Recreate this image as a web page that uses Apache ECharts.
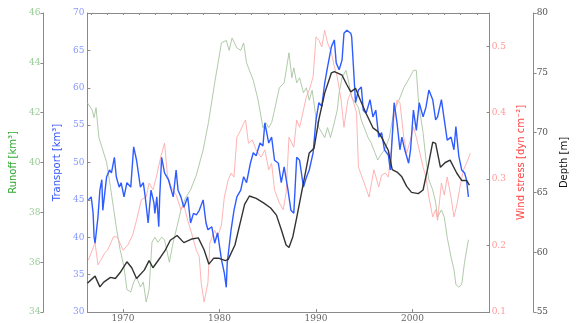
<!DOCTYPE html>
<html>
<head>
<meta charset="utf-8">
<script src="https://cdn.jsdelivr.net/npm/echarts@6/dist/echarts.min.js"></script>
<style>
html,body{margin:0;padding:0;background:#fff;}
#chart{width:577px;height:323px;}
</style>
</head>
<body>
<div id="chart"></div>
<script>
// ---- data (year, value) ----
const xLabelYears = [1970, 1980, 1990, 2000];
const runoffTicks = [34, 36, 38, 40, 42, 44, 46];
const transportTicks = [30, 35, 40, 45, 50, 55, 60, 65, 70];
const windTicks = [0.1, 0.2, 0.3, 0.4, 0.5];
const depthTicks = [55, 60, 65, 70, 75, 80];

const transport = [
[1966.4,45.0],[1966.7,45.4],[1966.9,43.2],[1967.0,40.0],[1967.1,39.2],[1967.4,42.7],[1967.6,46.3],[1967.8,47.7],[1967.9,43.6],
[1968.3,48.1],[1968.6,49.0],[1968.8,48.6],[1969.1,50.7],[1969.3,48.1],[1969.6,46.7],[1969.8,47.3],[1970.1,45.4],[1970.4,47.3],
[1970.8,46.7],[1971.1,52.1],[1971.4,50.3],[1971.8,46.7],[1972.1,47.3],[1972.3,45.4],[1972.6,41.9],[1972.9,46.3],[1973.2,44.6],
[1973.3,43.2],[1973.5,45.4],[1973.7,41.4],[1973.8,45.4],[1974.0,50.7],[1974.3,48.6],[1974.7,47.7],[1975.2,45.4],[1975.5,49.0],
[1975.7,46.3],[1976.0,45.4],[1976.3,44.0],[1976.7,45.4],[1977.0,41.9],[1977.3,43.2],[1977.6,43.0],[1977.9,43.6],[1978.3,45.0],
[1978.6,41.9],[1978.8,41.0],[1979.2,41.4],[1979.5,39.2],[1979.8,40.6],[1980.2,37.0],[1980.5,35.2],[1980.7,33.3],[1980.8,36.6],
[1981.2,41.0],[1981.5,43.6],[1981.8,45.4],[1982.2,46.3],[1982.5,48.1],[1982.8,47.3],[1983.2,49.9],[1983.5,51.3],[1983.8,50.9],
[1984.2,52.6],[1984.5,52.2],[1984.7,55.3],[1985.1,52.6],[1985.4,53.4],[1985.7,50.3],[1986.1,49.9],[1986.4,47.3],[1986.7,49.4],
[1987.1,46.3],[1987.4,43.6],[1987.7,43.2],[1988.0,50.7],[1988.3,50.3],[1988.7,46.7],[1989.0,48.0],[1989.3,49.0],[1989.7,51.3],
[1990.0,55.7],[1990.3,58.0],[1990.6,57.5],[1990.9,60.6],[1991.2,62.8],[1991.6,65.5],[1991.9,66.4],[1992.1,63.3],[1992.4,62.4],
[1992.7,63.7],[1992.9,67.3],[1993.2,67.7],[1993.6,67.3],[1993.7,66.8],[1994.1,58.0],[1994.4,59.7],[1994.7,60.1],[1994.9,57.0],
[1995.2,56.6],[1995.6,58.4],[1995.9,56.1],[1996.2,57.0],[1996.5,53.4],[1996.8,54.0],[1997.1,51.7],[1997.5,51.0],[1997.7,49.0],
[1997.9,53.4],[1998.1,58.0],[1998.4,55.3],[1998.7,51.7],[1998.9,53.4],[1999.2,51.7],[1999.6,49.9],[1999.8,51.7],[2000.1,57.0],
[2000.4,54.3],[2000.7,58.0],[2001.1,56.1],[2001.4,57.4],[2001.7,59.7],[2002.1,58.4],[2002.4,55.7],[2002.6,56.1],[2003.0,58.4],
[2003.3,55.7],[2003.6,53.0],[2004.0,53.4],[2004.3,51.7],[2004.5,54.8],[2004.8,50.9],[2005.1,49.0],[2005.4,48.6],[2005.6,47.7],
[2005.8,45.4]
];

const runoff = [
[1966.3,42.4],[1966.8,42.1],[1967.0,41.8],[1967.2,42.2],[1967.5,41.0],[1967.9,40.5],[1968.3,40.0],[1968.7,39.0],[1969.0,38.2],
[1969.3,37.4],[1969.7,36.5],[1970.1,35.8],[1970.4,34.9],[1970.8,34.8],[1971.1,35.2],[1971.4,35.4],[1971.8,35.0],[1972.1,35.2],
[1972.4,34.4],[1972.7,34.9],[1973.0,36.8],[1973.3,37.0],[1973.6,36.8],[1974.0,37.0],[1974.3,36.9],[1974.8,36.0],[1975.2,36.8],
[1975.7,37.6],[1976.0,38.1],[1976.5,38.6],[1977.0,38.9],[1977.6,39.5],[1978.3,40.5],[1978.85,41.6],[1979.5,43.2],[1980.2,44.8],
[1980.7,44.9],[1981.0,44.5],[1981.3,45.0],[1981.8,44.6],[1982.2,44.5],[1982.5,44.8],[1982.8,44.0],[1983.5,43.3],[1984.0,42.5],
[1984.5,41.4],[1984.8,41.6],[1985.1,41.4],[1985.4,41.6],[1985.7,42.1],[1986.2,43.0],[1986.7,43.2],[1987.2,44.4],[1987.5,43.4],
[1987.7,43.8],[1988.0,43.2],[1988.3,43.4],[1988.7,42.8],[1989.0,43.0],[1989.3,42.5],[1989.6,42.9],[1990.0,41.8],[1990.3,41.4],
[1990.6,41.2],[1990.9,41.0],[1991.2,41.4],[1991.5,41.0],[1991.9,41.6],[1992.2,42.1],[1992.4,42.8],[1992.7,43.4],[1993.1,43.7],
[1993.4,43.2],[1993.7,42.6],[1994.1,42.4],[1994.4,42.2],[1994.7,41.7],[1995.1,41.3],[1995.4,41.0],[1995.7,40.8],[1996.1,40.4],
[1996.4,40.1],[1996.7,40.3],[1997.1,40.5],[1997.4,40.8],[1997.6,41.0],[1998.1,42.1],[1998.6,42.5],[1999.1,43.0],[1999.4,43.2],
[1999.7,43.4],[2000.1,43.7],[2000.4,43.7],[2000.6,42.6],[2000.7,42.2],[2001.1,41.2],[2001.4,40.1],[2001.7,39.3],[2002.1,38.9],
[2002.4,38.4],[2002.6,37.8],[2003.0,38.1],[2003.3,37.8],[2003.6,37.0],[2004.0,36.2],[2004.3,35.7],[2004.5,35.1],[2004.8,35.0],
[2005.1,35.1],[2005.4,36.0],[2005.8,36.9]
];

const windStress = [
[1966.4,0.178],[1966.8,0.193],[1967.1,0.204],[1967.4,0.171],[1967.7,0.178],[1968.1,0.189],[1968.4,0.193],[1969.0,0.213],
[1969.4,0.213],[1970.0,0.193],[1970.5,0.201],[1971.0,0.216],[1971.4,0.238],[1971.9,0.269],[1972.4,0.273],[1972.7,0.294],
[1973.1,0.284],[1973.5,0.306],[1973.9,0.333],[1974.3,0.354],[1974.6,0.306],[1975.0,0.288],[1975.5,0.276],[1976.0,0.254],
[1976.3,0.261],[1976.7,0.238],[1977.1,0.219],[1977.6,0.193],[1977.9,0.183],[1978.1,0.144],[1978.4,0.115],[1978.8,0.144],
[1979.0,0.204],[1979.5,0.223],[1979.8,0.213],[1980.2,0.231],[1980.5,0.273],[1980.9,0.299],[1981.2,0.309],[1981.5,0.303],
[1981.8,0.363],[1982.2,0.374],[1982.5,0.384],[1982.7,0.389],[1983.0,0.354],[1983.4,0.359],[1983.8,0.344],[1984.3,0.333],
[1984.7,0.344],[1985.1,0.314],[1985.4,0.324],[1985.7,0.284],[1986.2,0.264],[1986.6,0.254],[1986.9,0.279],[1987.2,0.363],
[1987.4,0.363],[1987.7,0.348],[1988.0,0.389],[1988.3,0.378],[1988.7,0.404],[1989.0,0.424],[1989.3,0.434],[1989.7,0.454],
[1990.0,0.514],[1990.3,0.509],[1990.6,0.499],[1990.9,0.524],[1991.2,0.505],[1991.6,0.490],[1991.9,0.469],[1992.2,0.454],
[1992.6,0.419],[1992.9,0.378],[1993.3,0.419],[1993.6,0.430],[1993.9,0.415],[1994.2,0.400],[1994.4,0.318],[1994.7,0.306],
[1995.0,0.294],[1995.5,0.273],[1996.0,0.314],[1996.3,0.299],[1996.5,0.288],[1996.8,0.306],[1997.2,0.309],[1997.5,0.303],
[1997.8,0.344],[1998.1,0.393],[1998.4,0.419],[1998.7,0.415],[1999.1,0.363],[1999.4,0.339],[1999.7,0.354],[2000.1,0.378],
[2000.4,0.363],[2000.7,0.344],[2001.1,0.318],[2001.4,0.303],[2001.7,0.273],[2002.1,0.243],[2002.4,0.254],[2002.6,0.238],
[2003.0,0.294],[2003.3,0.276],[2003.6,0.303],[2004.0,0.273],[2004.3,0.243],[2004.6,0.261],[2005.0,0.294],[2005.3,0.314],
[2005.6,0.324],[2006.0,0.339]
];

const depth = [
[1966.3,57.4],[1967.1,58.0],[1967.6,57.1],[1968.0,57.5],[1968.7,57.9],[1969.2,57.8],[1969.7,58.3],[1970.4,59.2],[1970.9,58.7],
[1971.4,57.8],[1972.2,58.5],[1972.7,59.3],[1973.1,58.7],[1973.9,59.6],[1974.4,60.2],[1974.9,61.0],[1975.6,61.4],[1976.3,60.8],
[1977.1,61.1],[1977.8,61.2],[1978.4,60.2],[1978.9,59.0],[1979.4,59.5],[1979.9,59.5],[1980.6,59.3],[1980.9,59.4],[1981.6,60.6],
[1982.1,62.3],[1982.6,64.0],[1983.1,64.7],[1983.8,64.5],[1984.6,64.1],[1985.3,63.7],[1985.9,63.1],[1986.4,61.9],[1986.9,60.6],
[1987.2,60.4],[1987.6,61.3],[1988.0,62.9],[1988.7,65.8],[1989.3,68.3],[1989.8,68.7],[1990.3,71.1],[1990.9,73.3],[1991.6,75.0],
[1991.9,75.1],[1992.2,75.0],[1992.7,74.8],[1993.2,74.0],[1993.6,73.4],[1994.1,73.7],[1994.6,72.7],[1995.2,71.6],[1995.9,70.4],
[1996.4,70.1],[1996.8,69.6],[1997.5,68.5],[1997.9,66.9],[1998.4,66.7],[1998.9,66.3],[1999.4,65.5],[1999.9,65.0],[2000.6,64.9],
[2001.1,65.2],[2001.6,67.1],[2002.1,69.2],[2002.4,69.1],[2002.9,67.1],[2003.4,67.5],[2003.9,67.7],[2004.6,66.6],[2005.1,66.0],
[2005.6,66.0],[2005.9,65.6]
];

// ---- chart ----
const serif = 'DejaVu Serif';
const sans = 'DejaVu Sans';
const topTicks = [];
for (let k = 0; k < 25; k++) { const v = 1966.6667 + k * 10 / 6; if (v < 2008) topTicks.push(+v.toFixed(3)); }

function yAx(o) {
  return Object.assign({
    type: 'value',
    splitLine: { show: false },
    axisLine: { show: true, lineStyle: { color: '#8a8a8a', width: 1 } },
    axisTick: { show: true, length: 3, lineStyle: { color: '#8a8a8a' } },
    nameLocation: 'middle',
    nameTextStyle: { fontFamily: sans, fontSize: 10 }
  }, o);
}

const chart = echarts.init(document.getElementById('chart'), null, { renderer: 'canvas' });
chart.setOption({
  animation: false,
  backgroundColor: '#ffffff',
  grid: { left: 85, right: 68, top: 13, bottom: 11, containLabel: false },
  xAxis: [
    {
      type: 'value', min: 1966.3, max: 2008, position: 'bottom',
      splitLine: { show: false },
      axisLine: { lineStyle: { color: '#8a8a8a' } },
      axisTick: { inside: true, length: 3, customValues: xLabelYears, lineStyle: { color: '#8a8a8a' } },
      axisLabel: { customValues: xLabelYears, color: '#666', fontFamily: serif, fontSize: 9, margin: 2,
        formatter: v => String(Math.round(v)) }
    },
    {
      type: 'value', min: 1966.3, max: 2008, position: 'top',
      splitLine: { show: false },
      axisLine: { show: true, lineStyle: { color: '#8a8a8a' } },
      axisTick: { inside: true, length: 2, customValues: topTicks, lineStyle: { color: '#8a8a8a' } },
      axisLabel: { show: false }
    }
  ],
  yAxis: [
    yAx({
      min: 34, max: 46, interval: 2, position: 'left', offset: 44,
      name: 'Runoff [km³]', nameGap: 15,
      nameTextStyle: { fontFamily: sans, fontSize: 10, color: '#33a833' },
      axisLabel: { color: '#99cc99', fontFamily: serif, fontSize: 9, margin: 3 }
    }),
    yAx({
      min: 30, max: 70, interval: 5, position: 'left', offset: 0,
      name: 'Transport [km³]', nameGap: 15,
      nameTextStyle: { fontFamily: sans, fontSize: 10, color: '#3355ff' },
      axisTick: { show: true, inside: true, length: 3, lineStyle: { color: '#8a8a8a' } },
      axisLabel: { color: '#8899ff', fontFamily: serif, fontSize: 9, margin: 3 }
    }),
    yAx({
      min: 0.1, max: 0.55, interval: 0.1, position: 'right', offset: 0,
      name: 'Wind stress [dyn cm⁻²]', nameGap: 16,
      nameTextStyle: { fontFamily: sans, fontSize: 10, color: '#ff4444' },
      axisTick: { show: true, inside: true, length: 3, lineStyle: { color: '#8a8a8a' } },
      axisLabel: { color: '#ff9999', fontFamily: serif, fontSize: 9, margin: 2, showMaxLabel: false,
        formatter: v => (Math.round(v * 10) / 10).toFixed(1) }
    }),
    yAx({
      min: 55, max: 80, interval: 5, position: 'right', offset: 44,
      name: 'Depth [m]', nameGap: 9,
      nameTextStyle: { fontFamily: sans, fontSize: 10, color: '#111' },
      axisLabel: { color: '#555', fontFamily: serif, fontSize: 9, margin: 3 }
    })
  ],
  series: [
    { name: 'Runoff', type: 'line', xAxisIndex: 0, yAxisIndex: 0, data: runoff, showSymbol: false,
      lineStyle: { color: '#a8c4a2', width: 0.9 }, z: 1 },
    { name: 'Wind stress', type: 'line', xAxisIndex: 0, yAxisIndex: 2, data: windStress, showSymbol: false,
      lineStyle: { color: '#ffaaaa', width: 0.9 }, z: 2 },
    { name: 'Transport', type: 'line', xAxisIndex: 0, yAxisIndex: 1, data: transport, showSymbol: false,
      lineStyle: { color: '#2f5cff', width: 1.4 }, z: 3 },
    { name: 'Depth', type: 'line', xAxisIndex: 0, yAxisIndex: 3, data: depth, showSymbol: false,
      lineStyle: { color: '#333333', width: 1.4 }, z: 4 }
  ]
});
</script>
</body>
</html>
